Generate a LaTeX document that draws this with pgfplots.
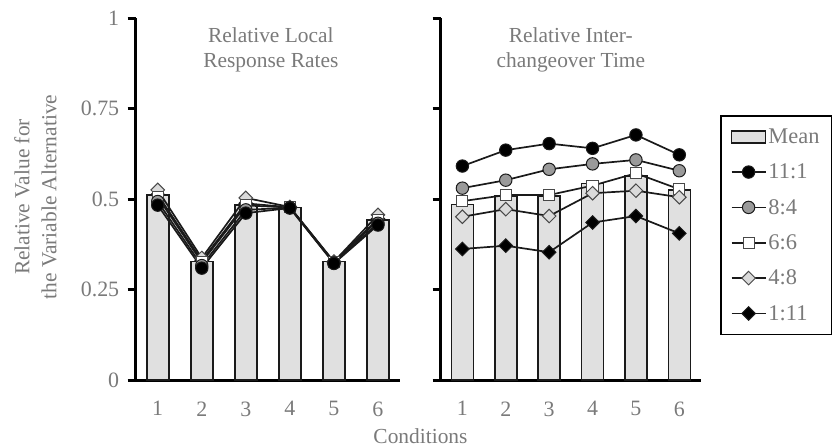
\documentclass[border=0pt]{standalone}
\usepackage{fontspec}
\setmainfont{Liberation Serif}
\usepackage{pgfplots}
\pgfplotsset{compat=1.18}
\definecolor{txtgray}{HTML}{7A7A7A}
\definecolor{barfill}{HTML}{E0E0E0}
\definecolor{markgray}{HTML}{9A9A9A}
\definecolor{marklight}{HTML}{DADADA}
\definecolor{linek}{HTML}{1A1A1A}
\newcommand\fs{\fontsize{21.5}{25.5}\selectfont}
\newcommand\ft{\fontsize{22}{26}\selectfont}
\newcommand\fl{\fontsize{22.5}{26}\selectfont}

\pgfplotsset{
  panel/.style={
    scale only axis, height=362bp,
    xmin=0.5, xmax=6.5, ymin=0, ymax=1,
    axis x line=bottom, axis y line=left,
    axis line style={line width=3bp, -, draw=black},
    xtick={1,2,3,4,5,6},
    ytick={0,0.25,0.5,0.75,1},
    tick align=outside,
    major tick length=8bp,
    ytick style={line width=3bp, draw=black},
    xtick style={draw=none},
    xticklabel={\ft\pgfmathprintnumber[assume math mode=true]{\tick}},
    xticklabel style={font=\ft, text=txtgray, yshift=-10bp},
    yticklabel style={font=\ft, text=txtgray, xshift=-5bp},
    clip=false,
  },
  meanbar/.style={ybar, bar width=22bp, fill=barfill, draw=linek, line width=1.6bp},
  s1/.style={line width=1.7bp, color=linek, mark=*, mark size=6.2bp, mark options={fill=black, draw=linek, line width=1bp}},
  s2/.style={line width=1.7bp, color=linek, mark=*, mark size=6.2bp, mark options={fill=markgray, draw=linek, line width=1bp}},
  s3/.style={line width=1.7bp, color=linek, mark=square*, mark size=5.6bp, mark options={fill=white, draw=linek!80, line width=1bp}},
  s4/.style={line width=1.7bp, color=linek, mark=square*, mark size=4.8bp, mark options={rotate=45, fill=marklight, draw=linek!80, line width=1bp}},
  s5/.style={line width=1.7bp, color=linek, mark=square*, mark size=4.8bp, mark options={rotate=45, fill=black, draw=linek, line width=1bp}},
}

\pgfplotstableread{
c  mean   a      b      d      e      f
1  0.511  0.483  0.493  0.505  0.525  0.512
2  0.327  0.309  0.316  0.325  0.337  0.330
3  0.483  0.461  0.470  0.482  0.503  0.488
4  0.477  0.475  0.476  0.477  0.478  0.477
5  0.327  0.322  0.323  0.325  0.327  0.326
6  0.442  0.428  0.433  0.441  0.456  0.445
}\lefttab

\pgfplotstableread{
c  mean   a      b      d      e      f
1  0.485  0.591  0.530  0.494  0.451  0.362
2  0.508  0.635  0.552  0.511  0.472  0.371
3  0.508  0.653  0.582  0.511  0.453  0.353
4  0.543  0.640  0.597  0.537  0.516  0.435
5  0.564  0.677  0.608  0.571  0.523  0.453
6  0.525  0.622  0.578  0.527  0.505  0.405
}\righttab

\begin{document}
\begin{tikzpicture}
\useasboundingbox (0,0) rectangle (832bp,-448bp);

\begin{axis}[panel, width=264.3bp, at={(135.7bp,-380bp)}, anchor=south west,
  yticklabel={\ft\pgfmathprintnumber[assume math mode=true]{\tick}}]
\addplot[meanbar] table[x=c,y=mean] {\lefttab};
\addplot[s5] table[x=c,y=f] {\lefttab};
\addplot[s4] table[x=c,y=e] {\lefttab};
\addplot[s3] table[x=c,y=d] {\lefttab};
\addplot[s2] table[x=c,y=b] {\lefttab};
\addplot[s1] table[x=c,y=a] {\lefttab};
\node[font=\fs, text=txtgray, align=center, anchor=north, inner sep=0pt, yshift=-9bp, xshift=3bp] at (rel axis cs:0.5,1) {Relative Local\\Response Rates};
\end{axis}

\begin{axis}[panel, width=260.3bp, at={(440.7bp,-380bp)}, anchor=south west,
  yticklabels={},
  legend style={at={(rel axis cs:1.073,0.732)}, anchor=north west, draw=black, line width=1.5bp, fill=white,
    font=\fl\color{txtgray}, inner xsep=10bp, inner ysep=11bp, row sep=15bp, cells={anchor=west}},
  legend image code/.code={\draw[mark repeat=2,mark phase=2,#1] plot coordinates {(0bp,0bp) (17bp,0bp) (34bp,0bp)};},
  ]
\addplot[meanbar, legend image code/.code={\draw[fill=barfill,draw=linek,line width=1.6bp] (0bp,-6bp) rectangle (34bp,6bp);}] table[x=c,y=mean] {\righttab};
\addlegendentry{Mean}
\addplot[s1] table[x=c,y=a] {\righttab};
\addlegendentry{11:1}
\addplot[s2] table[x=c,y=b] {\righttab};
\addlegendentry{8:4}
\addplot[s3] table[x=c,y=d] {\righttab};
\addlegendentry{6:6}
\addplot[s4] table[x=c,y=e] {\righttab};
\addlegendentry{4:8}
\addplot[s5] table[x=c,y=f] {\righttab};
\addlegendentry{1:11}
\node[font=\fs, text=txtgray, align=center, anchor=north, inner sep=0pt, yshift=-9bp] at (rel axis cs:0.5,1) {Relative Inter-\\changeover Time};
\end{axis}

\node[font=\fontsize{21.5}{27}\selectfont, text=txtgray, align=center, rotate=90, inner sep=0pt] at (35.5bp,-197bp) {Relative Value for\\the Variable Alternative};
\node[font=\fs, text=txtgray, inner sep=0pt] at (420.5bp,-436bp) {Conditions};
\end{tikzpicture}
\end{document}
